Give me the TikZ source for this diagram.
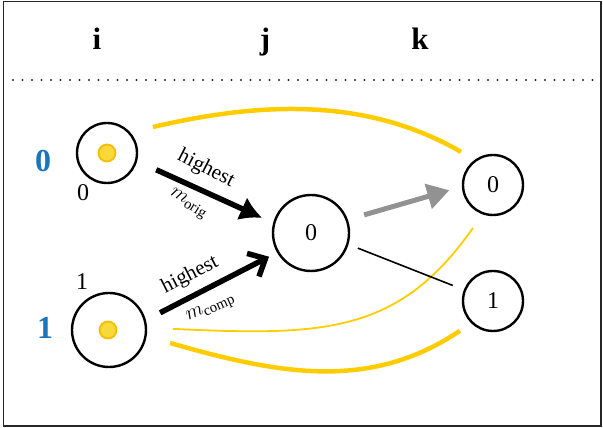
\documentclass[tikz,border=0pt]{standalone}
\usepackage{fontspec}
\setmainfont{Liberation Serif}
\usetikzlibrary{arrows.meta,calc}
\definecolor{ylw}{HTML}{FFCC00}
\definecolor{dotfill}{HTML}{F9D93A}
\definecolor{dotdraw}{HTML}{F5BE00}
\definecolor{blu}{HTML}{1B75BC}
\definecolor{gry}{HTML}{929292}
\tikzset{
  state/.style={circle, draw=black, line width=2.4pt, inner sep=0pt, font=\fontsize{24}{24}\selectfont},
  core/.style={circle, fill=dotfill, draw=dotdraw, line width=1.8pt, minimum size=17pt, inner sep=0pt},
  header/.style={font=\bfseries\fontsize{31}{31}\selectfont, anchor=base},
  rowlab/.style={font=\bfseries\fontsize{32}{32}\selectfont, text=blu},
  digit/.style={font=\fontsize{24}{24}\selectfont},
  albl/.style={font=\fontsize{21}{21}\selectfont},
  bigarrow/.style={line width=5.5pt, draw=black},
  yth/.style={draw=ylw, line width=4.5pt},
  ytn/.style={draw=ylw, line width=1.8pt},
}
\begin{document}
\begin{tikzpicture}[x=1pt,y=1pt]
\useasboundingbox (0,0) rectangle (603,428);
\draw[line width=1.5pt, black!85] (3.5,2) rectangle (601,426.5);
% headers
\node[header] (hi) at (97,378) {i};
\node[header] (hj) at (265,378) {j};
\node[header] (hk) at (420,378) {k};
\coordinate (dl) at (13,348);
\coordinate (dr) at (596,348);
\draw[line width=2.2pt, line cap=round, dash pattern=on 0pt off 9.5pt, black!85] (dl) -- (dr);
% nodes
\node[state, minimum size=60pt] (i0) at (107,275) {};
\node[state, minimum size=74pt] (i1) at (109,98) {};
\node[core] (c0) at (i0) {};
\node[core] (c1) at (108,98) {};
\node[state, minimum size=76pt] (j0) at (311,195) {0};
\node[state, minimum size=60pt] (k0) at (493,243) {0};
\node[state, minimum size=60pt] (k1) at (493,127) {1};
% labels
\node[rowlab] (r0) at (43,267) {0};
\node[rowlab] (r1) at (45,100) {1};
\node[digit] (l0) at (83,235) {0};
\node[digit] (l1) at (82,146) {1};
% yellow arcs
\draw[yth] ($(i0)+(29.5:52.8)$) .. controls +(107,25) and +(-95,55) .. ($(k0)+(134:46)$);
\draw[ytn] ($(i1)+(1:64)$) .. controls +(150,-7) and +(-74.6,-106.5) .. ($(k0)+(245:47.4)$);
\draw[yth] ($(i1)+(-12:62.4)$) .. controls +(105.7,-30.3) and +(-91.2,-61.5) .. ($(k1)+(222:44.6)$);
% arrows
\draw[bigarrow, -{Latex[length=22pt,width=25pt]}, shorten <=21pt, shorten >=12pt] (i0.-15) -- (j0.165);
\draw[bigarrow, -{Straight Barb[length=14pt,width=26pt]}, shorten <=16pt, shorten >=9pt] (i1.15) -- (j0.210);
\draw[line width=5pt, gry, -{Triangle[length=22pt,width=25pt]}, shorten <=17pt, shorten >=13pt] (j0.20) -- (k0.183);
\draw[line width=1.6pt, shorten <=10pt, shorten >=12pt] (j0.-17) -- (k1.159);
% arrow labels
\node[albl, rotate=-27] (h1) at (206,259) {highest};
\node[albl, rotate=-32] (m1) at (188,224) {$m_{\mathrm{orig}}$};
\node[albl, rotate=27] (h2) at (190,153) {highest};
\node[albl, rotate=24] (m2) at (211,119) {$m_{\mathrm{comp}}$};
\end{tikzpicture}
\end{document}
